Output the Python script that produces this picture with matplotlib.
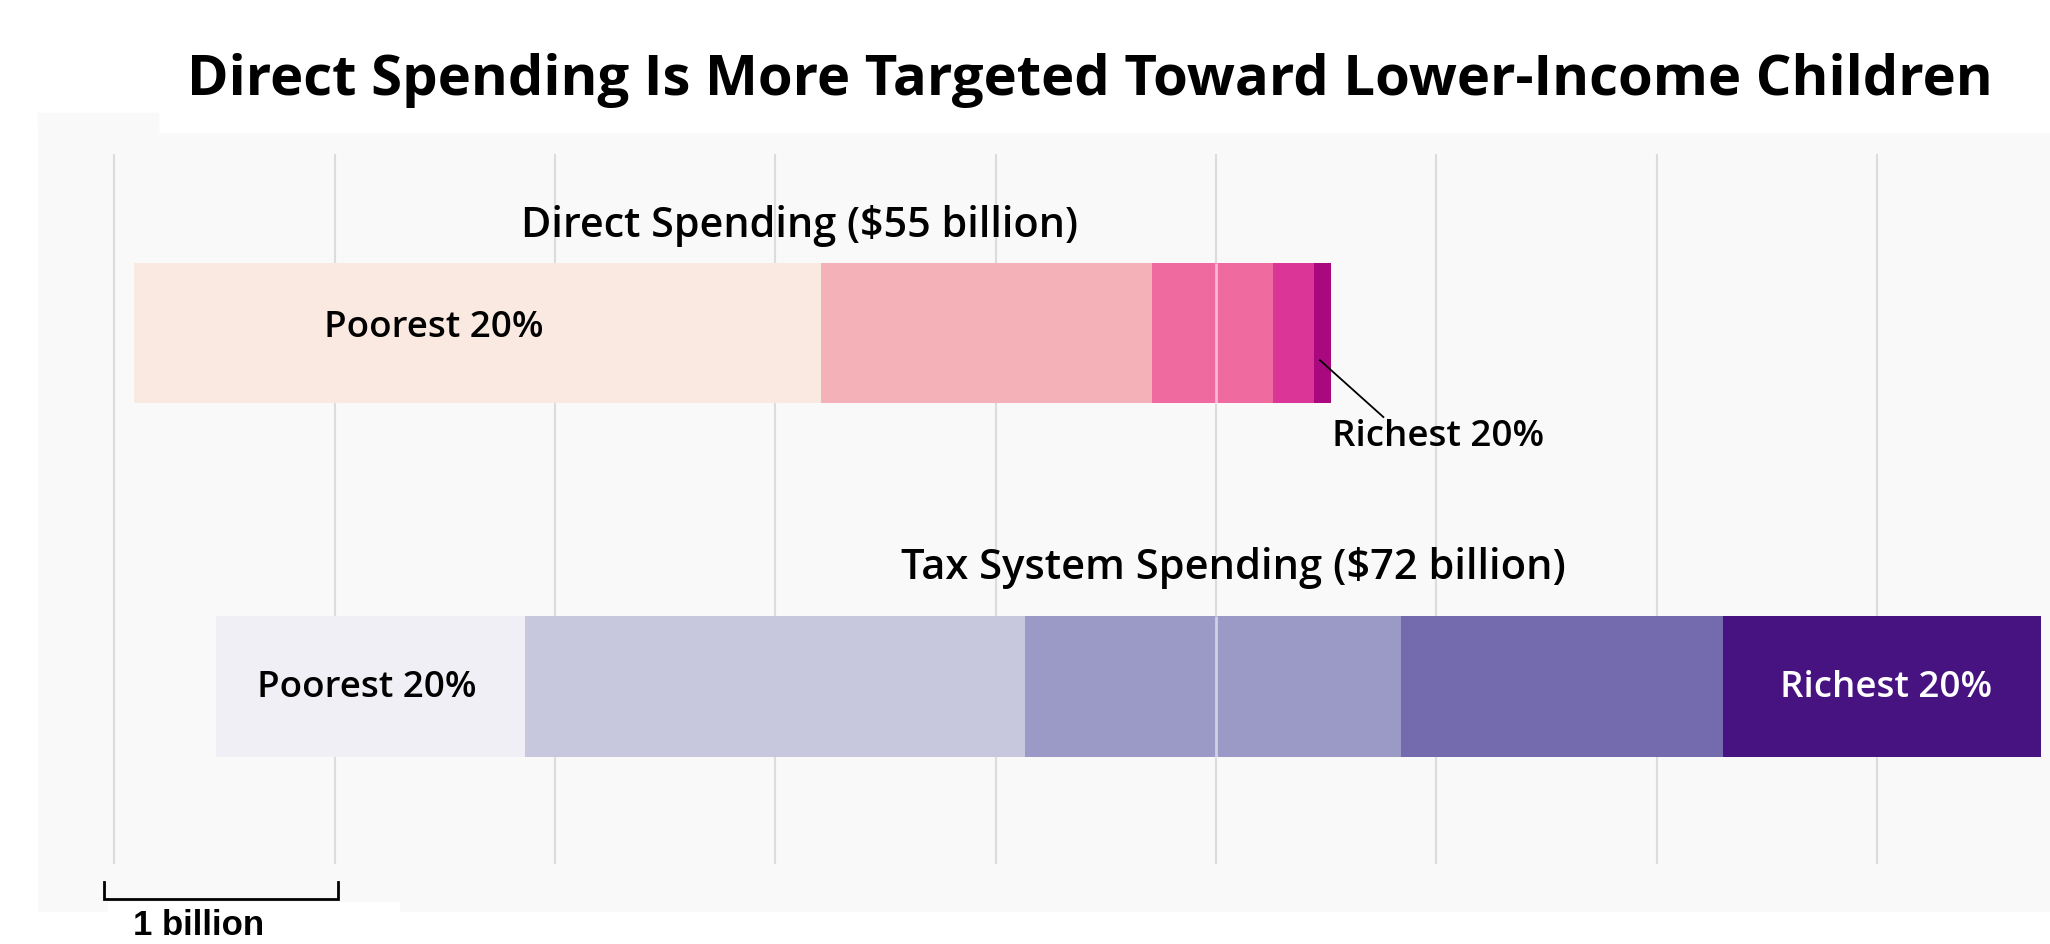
import numpy as np
import matplotlib
matplotlib.use("Agg")
import matplotlib.pyplot as plt
from matplotlib.patches import Rectangle

plt.rcParams["font.family"] = ["Open Sans", "DejaVu Sans"]

# values in billions of dollars, one segment per income quintile
quintiles = ["Poorest 20%", "Second 20%", "Middle 20%", "Fourth 20%", "Richest 20%"]
direct_start = 0.9
direct_values = [31.15, 15.04, 5.48, 1.86, 0.79]
tax_start = 4.6
tax_values = [14.02, 22.72, 17.07, 14.59, 14.46]

direct_colors = ["#fae9e0", "#f5b1b8", "#ef6a9f", "#da3597", "#a9087f"]
tax_colors = ["#efeff5", "#c7c8de", "#9b99c5", "#736bad", "#461380"]

grid_ticks = list(range(0, 90, 10))
highlight_tick = 50
bar_h = 0.398

W, H = 2050, 944
fig = plt.figure(figsize=(W / 100, H / 100), dpi=100)
fig.patch.set_facecolor("white")

ax = fig.add_axes([38 / W, 32 / H, 2012 / W, 779 / H])
ax.set_facecolor("#f9f9f9")
ax.set_xlim(-3.47, 87.86)
ax.set_ylim(-0.639, 1.566)
ax.set_xticks([])
ax.set_yticks([])
for s in ax.spines.values():
    s.set_visible(False)

for x in grid_ticks:
    ax.axvline(x, ymin=0.063, ymax=0.972, color="#dcdcdc", lw=1.5, zorder=1)

rows = [(1, direct_start, direct_values, direct_colors),
        (0, tax_start, tax_values, tax_colors)]
for y, start, values, colors in rows:
    lefts = start + np.concatenate([[0], np.cumsum(values)[:-1]])
    ax.barh([y] * len(values), values, left=lefts, height=bar_h,
            color=colors, linewidth=0, zorder=2)

# light line running through both bars
ax.vlines([highlight_tick, highlight_tick], [1 - bar_h / 2, -bar_h / 2],
          [1 + bar_h / 2, bar_h / 2], color="white", alpha=0.55, lw=2, zorder=3)

# headings and labels
fig.text(1089.5 / W, (H - 95) / H,
         "Direct Spending Is More Targeted Toward Lower-Income Children",
         ha="center", va="baseline", fontsize=40.5, fontweight="bold")
ax.text(18.45, 1.271, "Direct Spending ($55 billion)", fontsize=29.8,
        fontweight="semibold", va="baseline", zorder=4)
ax.text(35.70, 0.303, "Tax System Spending ($72 billion)", fontsize=30,
        fontweight="semibold", va="baseline", zorder=4)
ax.text(9.49, 0.988, quintiles[0], fontsize=26.5, fontweight="semibold",
        va="baseline", zorder=4)
ax.text(6.47, -0.031, quintiles[0], fontsize=26.5, fontweight="semibold",
        va="baseline", zorder=4)
ax.text(75.60, -0.031, quintiles[-1], fontsize=26.5, fontweight="semibold",
        va="baseline", color="white", zorder=4)
ax.text(55.26, 0.680, quintiles[-1], fontsize=26.5, fontweight="semibold",
        va="baseline", zorder=4)
ax.plot([54.72, 57.60], [0.923, 0.762], color="black", lw=1.3, zorder=4)

# scale bracket
ax.plot([-0.48, -0.48, 10.15, 10.15], [-0.554, -0.602, -0.602, -0.554],
        color="black", lw=2, zorder=4, solid_joinstyle="miter")

# small background pieces around the panel
fig.patches.append(Rectangle((38 / W, (H - 133) / H), 120 / W, 20 / H,
                             transform=fig.transFigure, color="#f9f9f9", zorder=5))
fig.patches.append(Rectangle((108 / W, 0), 291 / W, 42 / H,
                             transform=fig.transFigure, color="white", zorder=5))
fig.text(133 / W, 9 / H, "1 billion", fontsize=25, fontweight="bold",
         family=["Liberation Sans", "DejaVu Sans"], va="baseline", zorder=6)

fig.savefig("out.png", dpi=100)
